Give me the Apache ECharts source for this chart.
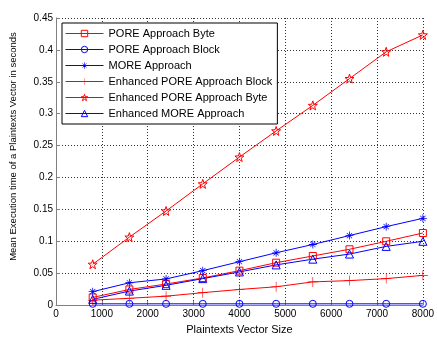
<!DOCTYPE html>
<html>
<head>
<meta charset="utf-8">
<script src="https://cdn.jsdelivr.net/npm/echarts@6/dist/echarts.min.js"></script>
<style>html,body{margin:0;padding:0;background:#fff;}#c{width:437px;height:340px;}</style>
</head>
<body>
<div id="c"></div>
<script>
var xValues = [800, 1600, 2400, 3200, 4000, 4800, 5600, 6400, 7200, 8000];
var poreByte = [0.012, 0.0245, 0.033, 0.0425, 0.054, 0.0665, 0.077, 0.0875, 0.100, 0.113];
var poreBlock = [0.002, 0.002, 0.002, 0.002, 0.002, 0.002, 0.002, 0.002, 0.002, 0.002];
var moreApproach = [0.021, 0.035, 0.041, 0.054, 0.068, 0.082, 0.095, 0.109, 0.123, 0.136];
var enhPoreBlock = [0.0077, 0.0107, 0.014, 0.0195, 0.0245, 0.0287, 0.0364, 0.0384, 0.0415, 0.0466];
var enhPoreByte = [0.064, 0.1065, 0.1475, 0.19, 0.232, 0.273, 0.313, 0.355, 0.397, 0.4235];
var enhMore = [0.009, 0.022, 0.031, 0.0415, 0.052, 0.063, 0.072, 0.080, 0.092, 0.100];
var seriesNames = ['PORE Approach Byte', 'PORE Approach Block', 'MORE Approach',
  'Enhanced PORE Approach Block', 'Enhanced PORE Approach Byte', 'Enhanced MORE Approach'];
var xTitle = 'Plaintexts Vector Size';
var yTitle = 'Mean Execution time of a Plaintexts Vector in seconds';

var FONT = '"Liberation Sans", Arial, sans-serif';
var RED = '#ff0000', BLUE = '#0000ff';
var starPath = 'path://M0,-10 L2.35,-3.24 L9.51,-3.09 L3.8,1.24 L5.88,8.09 L0,4 L-5.88,8.09 L-3.8,1.24 L-9.51,-3.09 L-2.35,-3.24 Z';
var plusPath = 'path://M-5,-0.3 L5,-0.3 L5,0.3 L-5,0.3 Z M-0.3,-5 L0.3,-5 L0.3,5 L-0.3,5 Z';
var asteriskPath = 'path://M-5,-0.5 L5,-0.5 L5,0.5 L-5,0.5 Z M-0.5,-5 L0.5,-5 L0.5,5 L-0.5,5 Z M-3.6,-3 L-3,-3.6 L3.6,3 L3,3.6 Z M3,-3.6 L3.6,-3 L-3,3.6 L-3.6,3 Z';
var rectPath = 'path://M-5,-5 L5,-5 L5,5 L-5,5 Z';
var circlePath = 'path://M-5,0 A5,5 0 1,0 5,0 A5,5 0 1,0 -5,0 Z';
var triPath = 'path://M0,-5 L5,4 L-5,4 Z';

function pairs(arr) { return xValues.map(function (x, i) { return [x, arr[i]]; }); }

function mk(name, data, color, symbol, size, hollow) {
  return {
    name: name, type: 'line', data: pairs(data),
    symbol: symbol, symbolSize: size, showAllSymbol: true,
    lineStyle: { color: color, width: 1 },
    itemStyle: hollow ? { color: 'rgba(255,255,255,0)', borderColor: color, borderWidth: 1 }
                      : { color: color, borderWidth: 0 },
    emphasis: { disabled: true },
    animation: false
  };
}

var chart = echarts.init(document.getElementById('c'), null, { renderer: 'canvas' });
chart.setOption({
  backgroundColor: '#fff',
  animation: false,
  textStyle: { fontFamily: FONT },
  grid: { left: 53.5, right: 12, top: 18, bottom: 29, containLabel: false },
  legend: {
    orient: 'vertical', left: 62, top: 23,
    padding: [5, 5, 5, 3],
    itemWidth: 38, itemHeight: 8, itemGap: 5,
    borderColor: '#000', borderWidth: 1, backgroundColor: '#fff',
    lineStyle: { width: 1 },
    itemStyle: { borderWidth: 1 },
    textStyle: { fontFamily: FONT, fontSize: 11, color: '#000' },
    data: seriesNames
  },
  xAxis: {
    type: 'value', min: 0, max: 8000, interval: 1000,
    name: xTitle, nameLocation: 'middle', nameGap: 17,
    nameTextStyle: { fontFamily: FONT, fontSize: 11, color: '#000' },
    axisLine: { show: true, lineStyle: { color: '#808080', width: 1 } },
    axisTick: { show: true, inside: true, length: 4, lineStyle: { color: '#808080' } },
    axisLabel: { fontFamily: FONT, fontSize: 10, color: '#000', margin: 4,
      formatter: function (v) { return String(v); } },
    splitLine: { show: true, lineStyle: { color: '#333', width: 1, type: [1, 2] } }
  },
  yAxis: {
    type: 'value', min: 0, max: 0.45, interval: 0.05,
    name: yTitle, nameLocation: 'middle', nameGap: 38,
    nameTextStyle: { fontFamily: FONT, fontSize: 9.5, color: '#000', padding: [0, 0, 0, 30] },
    axisLine: { show: true, lineStyle: { color: '#808080', width: 1 } },
    axisTick: { show: true, inside: true, length: 4, lineStyle: { color: '#808080' } },
    axisLabel: { fontFamily: FONT, fontSize: 10, color: '#000', margin: 3,
      formatter: function (v) { return String(Math.round(v * 100) / 100); } },
    splitLine: { show: true, lineStyle: { color: '#333', width: 1, type: [1, 2] } }
  },
  series: [
    mk(seriesNames[0], poreByte, RED, rectPath, 7, true),
    mk(seriesNames[1], poreBlock, BLUE, circlePath, 7, true),
    mk(seriesNames[2], moreApproach, BLUE, asteriskPath, 8, false),
    mk(seriesNames[3], enhPoreBlock, RED, plusPath, 10, false),
    mk(seriesNames[4], enhPoreByte, RED, starPath, 9, true),
    mk(seriesNames[5], enhMore, BLUE, triPath, 8, true)
  ]
});
</script>
</body>
</html>
